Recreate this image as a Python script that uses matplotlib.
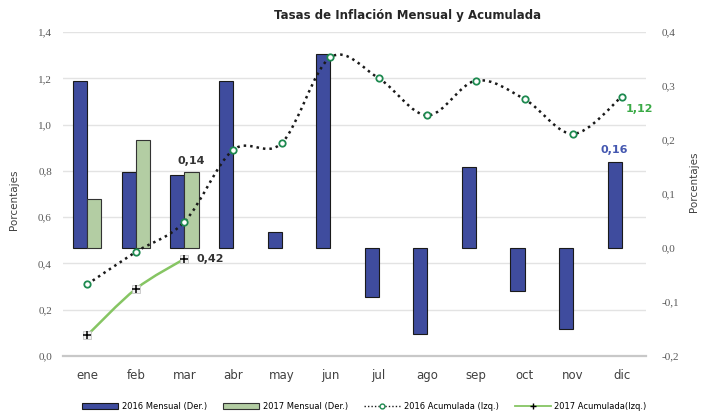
import matplotlib
matplotlib.use("Agg")
import matplotlib.pyplot as plt
from matplotlib.path import Path
from matplotlib.patches import PathPatch, Patch
from matplotlib.lines import Line2D
from matplotlib.ticker import FuncFormatter
import numpy as np

meses = ['ene', 'feb', 'mar', 'abr', 'may', 'jun', 'jul', 'ago', 'sep', 'oct', 'nov', 'dic']

mensual_2016 = [0.31, 0.14, 0.135, 0.31, 0.03, 0.36, -0.09, -0.16, 0.15, -0.08, -0.15, 0.16]
mensual_2017 = [0.09, 0.20, 0.14]
acum_2016 = [0.31, 0.45, 0.58, 0.89, 0.92, 1.29, 1.20, 1.04, 1.19, 1.11, 0.96, 1.12]
acum_2017 = [0.09, 0.29, 0.42]

azul = '#3F4C9E'
verde_barra = '#B3CDA3'
verde_linea = '#86C563'
verde_marca = '#1E8A50'
gris = '#595959'


def curva_suave(xs, ys):
    # catmull-rom -> bezier, like the excel "smoothed line"
    xs = np.asarray(xs, float)
    ys = np.asarray(ys, float)
    n = len(xs)
    verts = [(xs[0], ys[0])]
    codes = [Path.MOVETO]
    for i in range(n - 1):
        i0 = max(i - 1, 0)
        i3 = min(i + 2, n - 1)
        c1 = (xs[i] + (xs[i + 1] - xs[i0]) / 6, ys[i] + (ys[i + 1] - ys[i0]) / 6)
        c2 = (xs[i + 1] - (xs[i3] - xs[i]) / 6, ys[i + 1] - (ys[i3] - ys[i]) / 6)
        verts += [c1, c2, (xs[i + 1], ys[i + 1])]
        codes += [Path.CURVE4] * 3
    return Path(verts, codes)


coma = FuncFormatter(lambda v, p: ('%.1f' % v).replace('.', ','))

fig = plt.figure(figsize=(7.01, 4.12), dpi=100)
ax = fig.add_axes([0.0899, 0.1359, 0.8316, 0.7864])
axl = ax.twinx()
x = np.arange(len(meses))

# bars on the right scale
ax.set_xlim(-0.5, 11.5)
ax.set_ylim(-0.2, 0.4)
for k in range(8):
    f = k / 7
    ax.plot([0, 1], [f, f], transform=ax.transAxes, color='#E3E3E3', lw=1, zorder=0)

ax.bar(x - 0.145, mensual_2016, width=0.29, color=azul, edgecolor='#1a1a1a', lw=0.8, zorder=2)
ax.bar(x[:3] + 0.145, mensual_2017, width=0.29, color=verde_barra, edgecolor='#333333', lw=0.8, zorder=2)

ax.set_yticks(np.arange(-0.2, 0.41, 0.1))
ax.yaxis.set_major_formatter(coma)
ax.yaxis.set_ticks_position('right')
ax.tick_params(axis='y', length=0, pad=11, labelsize=8, labelcolor=gris,
               left=False, labelleft=False, right=True, labelright=True)
for t in ax.get_yticklabels():
    t.set_fontfamily('Liberation Serif')
ax.set_xticks(x)
ax.set_xticklabels(meses)
ax.tick_params(axis='x', length=0, pad=9, labelsize=8.5, labelcolor='#404040')
for s in ['top', 'left', 'right']:
    ax.spines[s].set_visible(False)
ax.spines['bottom'].set_color('#C8C8C8')
ax.spines['bottom'].set_linewidth(1.6)
ax.text(11 - 0.145, mensual_2016[11] + 0.012, '0,16', color='#4457B0', fontsize=8,
        fontweight='bold', ha='center', va='bottom')
ax.text(2 + 0.145, mensual_2017[2] + 0.012, '0,14', color='#333333', fontsize=8,
        fontweight='bold', ha='center', va='bottom')

# accumulated on the left scale
axl.set_ylim(0, 1.4)
axl.set_yticks(np.arange(0, 1.41, 0.2))
axl.yaxis.set_major_formatter(coma)
axl.yaxis.set_ticks_position('left')
axl.tick_params(axis='y', length=0, pad=8, labelsize=8, labelcolor=gris,
                left=True, labelleft=True, right=False, labelright=False)
for t in axl.get_yticklabels():
    t.set_fontfamily('Liberation Serif')
for s in axl.spines.values():
    s.set_visible(False)

axl.add_patch(PathPatch(curva_suave(x, acum_2016), fill=False, color='#1a1a1a',
                        lw=1.8, linestyle=(0, (1, 1.6)), zorder=3))
axl.plot(x, acum_2016, ls='none', marker='o', ms=4.6, mfc='white', mec=verde_marca, mew=1.3, zorder=4)
axl.add_patch(PathPatch(curva_suave(x[:3], acum_2017), fill=False, color=verde_linea, lw=1.8, zorder=3))
axl.plot(x[:3], acum_2017, ls='none', marker='s', ms=6, mfc='#f2f2f2', mec='#bbbbbb', mew=0.5, zorder=4)
axl.plot(x[:3], acum_2017, ls='none', marker='+', ms=6, color='black', mew=1.1, zorder=5)

axl.annotate('0,42', (2, acum_2017[2]), xytext=(9, 0), textcoords='offset points',
             color='#333333', fontsize=8, fontweight='bold', va='center')
axl.annotate('1,12', (11, acum_2016[11]), xytext=(3, -9), textcoords='offset points',
             color='#3AAA46', fontsize=8, fontweight='bold', va='center')

fig.text(0.582, 0.962, 'Tasas de Inflación Mensual y Acumulada', ha='center', va='center',
         fontsize=8.5, fontweight='bold', color='#262626')
fig.text(0.02, 0.515, 'Porcentajes', rotation=90, ha='center', va='center', fontsize=7.5, color='#404040')
fig.text(0.99, 0.56, 'Porcentajes', rotation=90, ha='center', va='center', fontsize=7.5, color='#404040')

handles = [
    Patch(facecolor=azul, edgecolor='#1a1a1a', lw=0.8, label='2016 Mensual (Der.)'),
    Patch(facecolor=verde_barra, edgecolor='#333333', lw=0.8, label='2017 Mensual (Der.)'),
    Line2D([], [], color='#1a1a1a', lw=1, ls=(0, (1, 1.5)), marker='o', ms=3.5,
           mfc='white', mec=verde_marca, label='2016 Acumulada (Izq.)'),
    Line2D([], [], color=verde_linea, lw=1.3, marker='+', ms=4, mec='black', label='2017 Acumulada(Izq.)'),
]
fig.legend(handles=handles, loc='center', bbox_to_anchor=(0.52, 0.013), ncol=4, frameon=False,
           fontsize=6, handlelength=4.3, handleheight=0.7, columnspacing=2.0, handletextpad=0.4)

fig.savefig('out.png', dpi=100, facecolor='white')
